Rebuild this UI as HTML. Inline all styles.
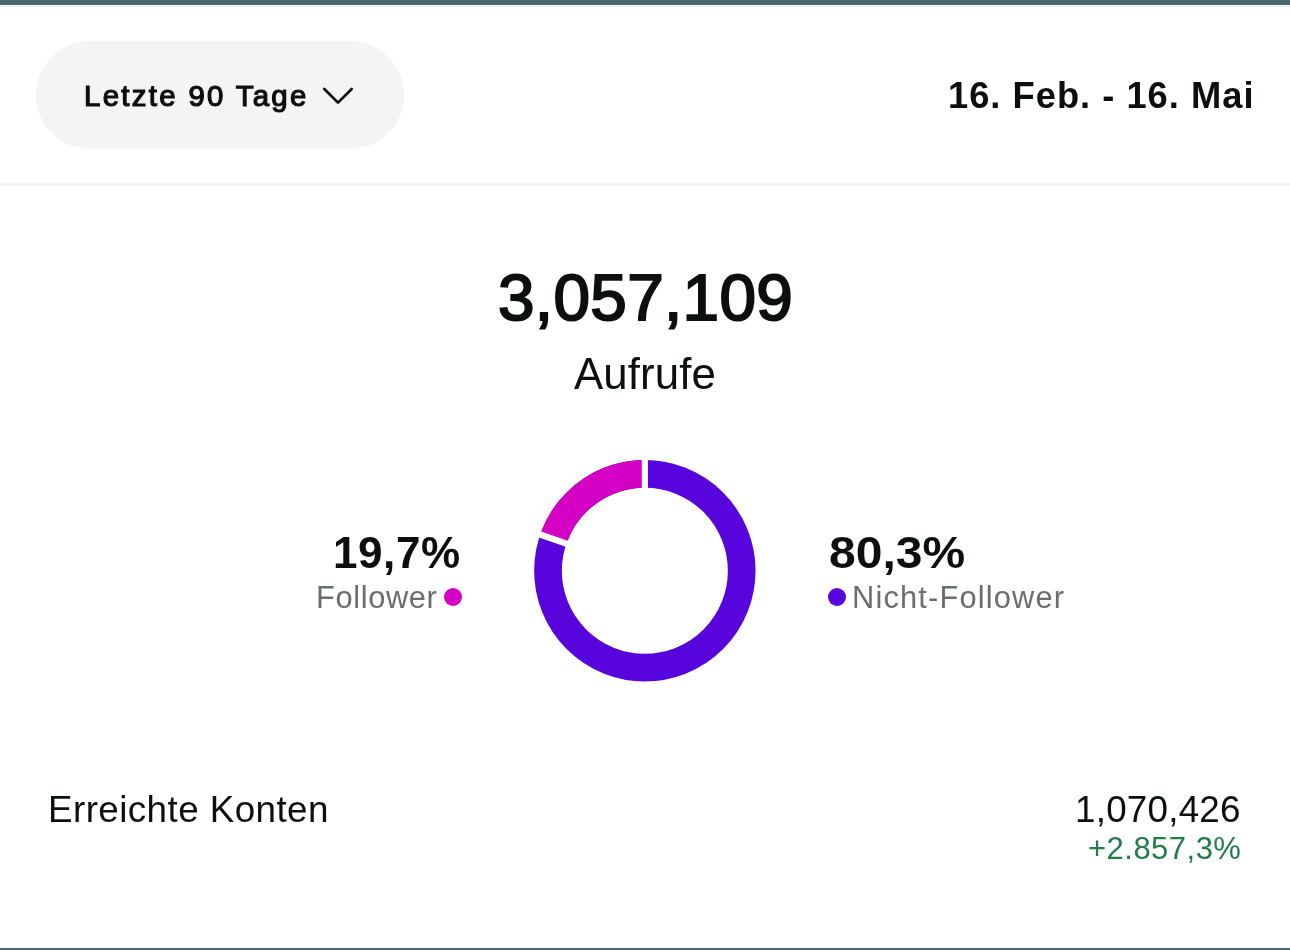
<!DOCTYPE html>
<html>
<head>
<meta charset="utf-8">
<style>
html,body{margin:0;padding:0;}
body{width:1290px;height:950px;position:relative;overflow:hidden;background:#fff;font-family:"Liberation Sans",sans-serif;color:#0c0f10;}
.t{position:absolute;white-space:nowrap;line-height:1;transform:translateZ(0);}
.bar{position:absolute;left:0;width:1290px;}
</style>
</head>
<body>
<div class="bar" style="top:0;height:5px;background:#4b6870;"></div>
<div class="bar" style="top:5px;height:1px;background:#ffffff;"></div>
<div class="bar" style="top:6px;height:1px;background:#e9ebee;"></div>
<div style="position:absolute;left:36px;top:41px;width:368px;height:108px;border-radius:54px;background:#f3f4f6;"></div>
<div class="t" style="left:84px;top:81px;font-size:29.4px;letter-spacing:2.31px;font-weight:normal;color:#0c0f10;-webkit-text-stroke:1.2px #0c0f10;">Letzte 90 Tage</div>
<svg style="position:absolute;left:320px;top:84px;" width="38" height="24" viewBox="0 0 38 24"><polyline points="4.3,5 18,18.6 31.7,5" fill="none" stroke="#0c0f10" stroke-width="2.7" stroke-linecap="round" stroke-linejoin="round"/></svg>
<div class="t" style="left:948px;top:78px;font-size:36.3px;letter-spacing:1.0px;font-weight:bold;color:#0c0f10;">16. Feb. - 16. Mai</div>
<div class="bar" style="top:183px;height:3px;background:#f4f5f6;"></div>
<div class="t" style="left:498px;top:265px;font-size:65.7px;letter-spacing:0.33px;font-weight:normal;color:#0c0f10;-webkit-text-stroke:2.0px #0c0f10;">3,057,109</div>
<div class="t" style="left:574px;top:352px;font-size:43.8px;letter-spacing:0.1px;font-weight:normal;color:#0c0f10;">Aufrufe</div>
<svg style="position:absolute;left:0;top:0;" width="1290" height="950">
<circle cx="644.85" cy="570.8" r="96.85" fill="none" stroke="#5805dd" stroke-width="27.7"/>
<path d="M 644.85 473.95 A 96.85 96.85 0 0 0 553.32 539.14" fill="none" stroke="#d400c4" stroke-width="27.7"/>
<line x1="644.85" y1="570.8" x2="644.85" y2="440" stroke="#fff" stroke-width="6.1"/>
<line x1="644.85" y1="570.8" x2="521.98" y2="528.30" stroke="#fff" stroke-width="6.5"/>
</svg>
<div class="t" style="left:333px;top:531px;font-size:44.0px;letter-spacing:0.59px;font-weight:bold;color:#0c0f10;">19,7%</div>
<div class="t" style="left:316px;top:583px;font-size:30.8px;letter-spacing:0.63px;font-weight:normal;color:#696e71;">Follower</div>
<div style="position:absolute;left:444px;top:588px;width:18px;height:18px;border-radius:50%;background:#d400c4;"></div>
<div class="t" style="left:829px;top:531px;font-size:44.0px;letter-spacing:0.0px;font-weight:bold;color:#0c0f10;transform:translateZ(0) scaleX(1.0911);transform-origin:0 0;">80,3%</div>
<div style="position:absolute;left:828px;top:588px;width:18px;height:18px;border-radius:50%;background:#5805dd;"></div>
<div class="t" style="left:852px;top:583px;font-size:30.8px;letter-spacing:1.17px;font-weight:normal;color:#696e71;">Nicht-Follower</div>
<div class="t" style="left:48px;top:792px;font-size:36.8px;letter-spacing:0.42px;font-weight:normal;color:#0c0f10;">Erreichte Konten</div>
<div class="t" style="left:1075px;top:792px;font-size:36.8px;letter-spacing:0.22px;font-weight:normal;color:#0c0f10;">1,070,426</div>
<div class="t" style="left:1088px;top:833px;font-size:31.0px;letter-spacing:0.48px;font-weight:normal;color:#1f7d47;">+2.857,3%</div>
<div class="bar" style="top:948px;height:2px;background:#4b6870;"></div>
</body>
</html>
